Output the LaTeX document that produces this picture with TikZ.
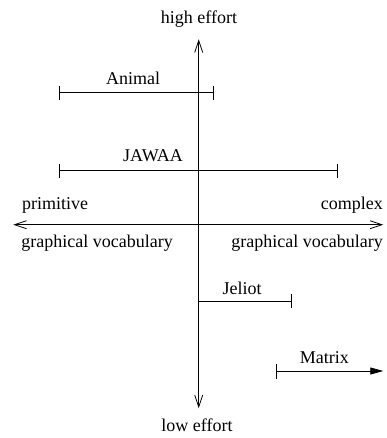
\documentclass[tikz,border=0pt]{standalone}
\usepackage{fontspec}
\setmainfont{Liberation Serif}
\usetikzlibrary{arrows.meta}

\begin{document}
\begin{tikzpicture}
  [
    x                  = 1pt,
    y                  = -1pt,
    line width         = 0.8pt,
    axis/.style        = {draw, {Straight Barb[length=12pt,width=8pt]}-{Straight Barb[length=12pt,width=8pt]}},
    spanbar/.style     = {draw, {Bar[width=14pt]}-{Bar[width=14pt]}},
    openbar/.style     = {draw, {Bar[width=15pt]}-{Triangle[length=13pt,width=7pt]}},
    every node/.style  = {font=\fontsize{18}{20}\selectfont, inner sep=0pt, anchor=base}
  ]
  \useasboundingbox (0,0) rectangle (387,438);

  % axes
  \coordinate (high)   at (198.7,39.3);
  \coordinate (low)    at (198.7,408.3);
  \coordinate (prim)   at (13.3,224.7);
  \coordinate (compl)  at (383.3,224.7);
  \path[axis] (low) -- (high);
  \path[axis] (prim) -- (compl);

  \node (highlabel) at (199,23.3) { high effort };
  \node (lowlabel)  at (197,431.7) { low effort };
  \node[anchor=base west] (primlabel)  at (21.7,209.3) { primitive };
  \node[anchor=base east] (compllabel) at (383.3,209.3) { complex };
  \node[anchor=base west] (primvocab)  at (21,247.7) { graphical vocabulary };
  \node[anchor=base east] (complvocab) at (383.3,247.7) { graphical vocabulary };

  % systems
  \coordinate (animal west)  at (59.3,92.7);
  \coordinate (animal east)  at (214,92.7);
  \coordinate (jawaa west)   at (59.3,170.7);
  \coordinate (jawaa east)   at (337.7,170.7);
  \coordinate (jeliot west)  at (198.7,301);
  \coordinate (jeliot east)  at (291.7,301);
  \coordinate (matrix west)  at (276,371);
  \coordinate (matrix east)  at (383.3,371);

  \path[spanbar] (animal west) -- (animal east);
  \path[spanbar] (jawaa west) -- (jawaa east);
  \path[draw, -{Bar[width=14pt]}] (jeliot west) -- (jeliot east);
  \path[openbar] (matrix west) -- (matrix east);

  \node (animal) at (133,85) { Animal };
  \node (jawaa)  at (153,162) { JAWAA };
  \node (jeliot) at (242,294) { Jeliot };
  \node (matrix) at (324.3,363) { Matrix };
\end{tikzpicture}
\end{document}
